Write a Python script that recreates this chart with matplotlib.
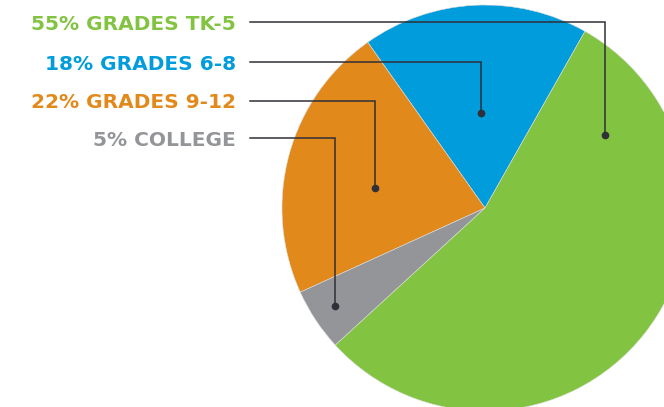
import matplotlib
matplotlib.use("Agg")
import matplotlib.pyplot as plt

# slice data, counterclockwise from the blue/green boundary
labels = ["18% GRADES 6-8", "22% GRADES 9-12", "5% COLLEGE", "55% GRADES TK-5"]
shares = [18, 22, 5, 55]
colors = ["#009CDC", "#E2891C", "#939598", "#82C341"]

# legend rows top-to-bottom: label, colour, dot position (px from top-left)
legend_labels = ["55% GRADES TK-5", "18% GRADES 6-8", "22% GRADES 9-12", "5% COLLEGE"]
legend_colors = ["#82C341", "#009CDC", "#E2891C", "#939598"]
legend_y = [22, 62, 101, 138]
dot_x = [605, 481, 375, 335]
dot_y = [135, 113, 188, 306]

W, H = 664, 407
LINE = "#2F3038"

fig = plt.figure(figsize=(W / 100, H / 100), dpi=100)
ax = fig.add_axes([0, 0, 1, 1])

ax.pie(shares, colors=colors, startangle=60.5, counterclock=True,
       center=(485, H - 208), radius=203,
       wedgeprops=dict(linewidth=0.4, edgecolor="#dddddd"))

for lab, col, ly, dx, dy in zip(legend_labels, legend_colors, legend_y, dot_x, dot_y):
    ax.text(236, H - ly, lab, ha="right", va="center_baseline", color=col,
            fontsize=14.5, fontweight="bold", family="DejaVu Sans")
    ax.plot([250, dx, dx], [H - ly, H - ly, H - dy], color=LINE, lw=1.1,
            solid_joinstyle="miter")
    ax.plot(dx, H - dy, "o", color=LINE, ms=4.5)

ax.set_xlim(0, W)
ax.set_ylim(0, H)
ax.set_aspect("equal")
ax.axis("off")
fig.savefig("out.png", dpi=100)
